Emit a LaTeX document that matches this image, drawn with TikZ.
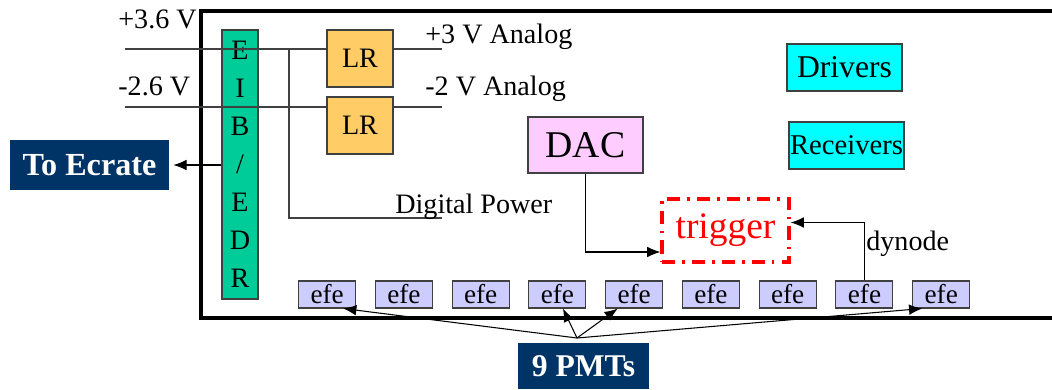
\documentclass[tikz,border=0pt]{standalone}
\usepackage{fontspec}
\setmainfont{Liberation Serif}
\usetikzlibrary{arrows.meta,positioning,calc}

\definecolor{navy}{RGB}{0,51,102}
\definecolor{eibgreen}{RGB}{0,204,153}
\definecolor{lrorange}{RGB}{255,204,102}
\definecolor{dacpink}{RGB}{255,204,255}
\definecolor{efeblue}{RGB}{204,204,255}
\definecolor{bufcyan}{RGB}{0,255,255}
\definecolor{wiregray}{RGB}{64,64,64}

\begin{document}
\begin{tikzpicture}[
  blk/.style={draw=wiregray, line width=0.6pt, inner sep=0pt, font=\fontsize{16}{19}\selectfont},
  efe/.style={blk, fill=efeblue, minimum width=1.14cm, minimum height=0.54cm, font=\fontsize{15.5}{18}\selectfont},
  tag/.style={fill=navy, text=white, inner sep=0pt, font=\fontsize{18.3}{22}\selectfont\bfseries},
  lbl/.style={anchor=base west, inner sep=0pt, font=\fontsize{16}{19}\selectfont},
  wire/.style={wiregray, line width=0.6pt},
  arr/.style={black, line width=0.6pt, -{Latex[length=7.5pt,width=6pt]}}
]
\useasboundingbox (0,0) rectangle (21.04,7.78);

% board outline
\draw[line width=2pt] (21.2,7.56) -| (4.02,1.42) -- (21.2,1.42);

\node[blk, fill=eibgreen, minimum width=0.72cm, minimum height=5.38cm, align=center,
  font=\fontsize{16}{21.6}\selectfont] (eib) at (4.80,4.49) {E\\I\\B\\/\\E\\D\\R};
\node[blk, fill=lrorange, minimum width=1.32cm, minimum height=1.14cm] (lr1) at (7.20,6.61) {LR};
\node[blk, fill=lrorange, minimum width=1.32cm, minimum height=1.14cm] (lr2) at (7.20,5.27) {LR};
\node[blk, fill=dacpink, minimum width=2.30cm, minimum height=1.12cm,
  font=\fontsize{21.5}{25}\selectfont] (dac) at (11.71,4.88) {DAC};
\node[blk, fill=bufcyan, minimum width=2.30cm, minimum height=0.94cm,
  font=\fontsize{18}{21}\selectfont] (drv) at (16.89,6.43) {Drivers};
\node[blk, fill=bufcyan, minimum width=2.30cm, minimum height=0.94cm,
  font=\fontsize{16.3}{19}\selectfont] (rcv) at (16.93,4.87) {Receivers};
\node[draw=red, line width=1.8pt, dash pattern=on 7.5pt off 4pt on 1.5pt off 4pt,
  minimum width=2.54cm, minimum height=1.26cm, text=red,
  font=\fontsize{21.3}{25}\selectfont] (trig) at (14.51,3.17) {trigger};

\node[tag, minimum width=3.18cm, minimum height=1.00cm] (ecrate) at (1.79,4.48) {To Ecrate};
\node[tag, minimum width=2.62cm, minimum height=0.92cm,
  font=\fontsize{18}{22}\selectfont\bfseries] (pmts) at (11.67,0.46) {9 PMTs};

\foreach \i in {1,...,9}
  \node[efe] (e\i) at ({6.544+(\i-1)*1.535},1.89) {efe};

% power lines
\coordinate (p36) at (2.50,6.80);
\coordinate (m26) at (2.50,5.64);
\coordinate (a3) at (8.84,6.80);
\coordinate (a2) at (8.84,5.64);
\coordinate (dtap) at (5.78,6.80);
\coordinate (dig) at (8.84,3.42);
\draw[wire] (p36) -- (p36 -| lr1.west);
\draw[wire] (lr1.east |- a3) -- (a3);
\draw[wire] (m26) -- (m26 -| lr2.west);
\draw[wire] (lr2.east |- a2) -- (a2);
\draw[wire] (dtap) |- (dig);

\node[lbl] (v36) at (2.36,7.21) {+3.6 V};
\node[lbl] (v26) at (2.36,5.88) {-2.6 V};
\node[lbl] (an3) at (8.50,6.92) {+3 V Analog};
\node[lbl] (an2) at (8.50,5.88) {-2 V Analog};
\node[lbl] (dp) at (7.90,3.52) {Digital Power};
\node[lbl] (dyn) at (17.32,2.78) {dynode};

% signals
\draw[arr, shorten >=0.08cm] (eib.west |- ecrate) -- (ecrate);
\draw[arr] (dac.south) |- ([yshift=-0.43cm]trig.west);
\draw[arr] (e8.north) |- ([yshift=0.16cm]trig.east);

\coordinate (hub) at (11.54,1.02);
\draw[arr] (hub) -- ([xshift=0.32cm]e1.south);
\draw[arr] (hub) -- ([xshift=0.11cm]e4.south);
\draw[arr] (hub) -- ([xshift=-0.33cm]e5.south);
\draw[arr] (hub) -- ([xshift=-0.38cm]e9.south);
\end{tikzpicture}
\end{document}
